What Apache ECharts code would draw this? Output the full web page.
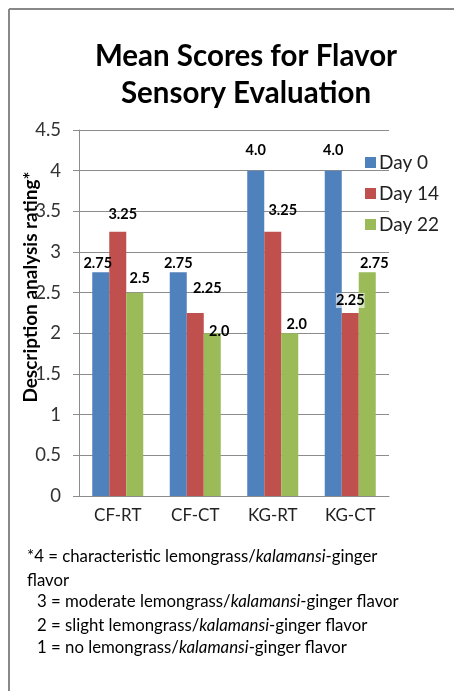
<!DOCTYPE html>
<html>
<head>
<meta charset="utf-8">
<script src="https://cdn.jsdelivr.net/npm/echarts@6/dist/echarts.min.js"></script>
<style>html,body{margin:0;padding:0;background:#fff;}#c{width:454px;height:691px;}</style>
</head>
<body>
<div id="c"></div>
<script>
var categories = ['CF-RT', 'CF-CT', 'KG-RT', 'KG-CT'];
var seriesNames = ['Day 0', 'Day 14', 'Day 22'];
var day0 = [2.75, 2.75, 4.0, 4.0];
var day14 = [3.25, 2.25, 3.25, 2.25];
var day22 = [2.5, 2.0, 2.0, 2.75];
var yTicks = { min: 0, max: 4.5, interval: 0.5 };
var titleLines = ['Mean Scores for Flavor', 'Sensory Evaluation'];
var yAxisTitle = 'Description analysis rating*';

var colors = ['#4F81BD', '#C0504D', '#9BBB59'];
var FONT = 'Lato';
// label offsets (pixel nudges to mimic original label placement)
var labelOffsets = [
  [[-3, 3], [0, 3], [0, -8], [0, -8]],
  [[5, -5], [12, -12], [10, -9], [0, 0]],
  [[5, -2], [7, 10], [7, 3], [7, 3]]
];
function fmt(v) { return Number.isInteger(v) ? v.toFixed(1) : String(v); }

var allData = [day0, day14, day22];
var series = allData.map(function (arr, si) {
  return {
    name: seriesNames[si],
    type: 'bar',
    barWidth: 17,
    barGap: '0%',
    itemStyle: { color: colors[si] },
    data: arr.map(function (v, ci) {
      var lab = { offset: labelOffsets[si][ci] };
      if (si === 1 && ci === 3) { lab.backgroundColor = 'rgba(255,255,255,0.6)'; }
      return { value: v, label: lab };
    }),
    label: {
      show: true, position: 'top', distance: 5,
      fontFamily: FONT, fontWeight: 'bold', fontSize: 14.5, color: '#000',
      formatter: function (p) { return fmt(p.value); }
    }
  };
});

function noteLine(x, y, parts) {
  var text = parts.map(function (p) { return '{' + p[0] + '|' + p[1] + '}'; }).join('');
  return {
    type: 'text', left: x, top: y,
    style: {
      text: text,
      rich: {
        n: { fontFamily: FONT, fontSize: 16.8, fill: '#000', fontStyle: 'normal' },
        i: { fontFamily: FONT, fontSize: 16.8, fill: '#000', fontStyle: 'italic' }
      }
    }
  };
}

var chart = echarts.init(document.getElementById('c'));
chart.setOption({
  animation: false,
  backgroundColor: '#fff',
  color: colors,
  title: {
    text: titleLines.join('\n'),
    left: 241, top: 33, textAlign: 'center',
    textStyle: { fontFamily: FONT, fontWeight: 'bold', fontSize: 29.5, lineHeight: 37, color: '#000' }
  },
  legend: {
    orient: 'vertical', left: 360, top: 148,
    itemWidth: 11, itemHeight: 11, itemGap: 12,
    icon: 'rect',
    textStyle: { fontFamily: FONT, fontSize: 19, color: '#222', lineHeight: 19, padding: [0, 0, 0, -2] },
    data: seriesNames
  },
  grid: { left: 79, right: 65, top: 130, bottom: 195 },
  xAxis: {
    type: 'category', data: categories,
    axisLine: { lineStyle: { color: '#8c8c8c', width: 1 } },
    axisTick: { show: false },
    axisLabel: { fontFamily: FONT, fontSize: 17, color: '#222', margin: 11 }
  },
  yAxis: {
    type: 'value', min: yTicks.min, max: yTicks.max, interval: yTicks.interval,
    axisLine: { show: true, lineStyle: { color: '#8c8c8c' } },
    axisTick: { show: true, length: 6, lineStyle: { color: '#8c8c8c' } },
    splitLine: { lineStyle: { color: '#8c8c8c' } },
    axisLabel: { fontFamily: FONT, fontSize: 18.5, color: '#333', margin: 18 }
  },
  series: series,
  graphic: [
    { type: 'line', shape: { x1: 9, y1: 9, x2: 454, y2: 9 }, style: { stroke: '#888', lineWidth: 2 } },
    { type: 'line', shape: { x1: 9, y1: 9, x2: 9, y2: 691 }, style: { stroke: '#888', lineWidth: 2 } },
    {
      type: 'text', x: 31, y: 287, rotation: Math.PI / 2,
      style: { text: yAxisTitle, fontFamily: FONT, fontWeight: 'bold', fontSize: 19, fill: '#000', align: 'center', verticalAlign: 'middle' }
    },
    noteLine(27, 548, [['n', '*4 = characteristic lemongrass/'], ['i', 'kalamansi'], ['n', '-ginger']]),
    noteLine(27, 572, [['n', 'flavor']]),
    noteLine(37, 593, [['n', '3 = moderate lemongrass/'], ['i', 'kalamansi'], ['n', '-ginger flavor']]),
    noteLine(37, 617, [['n', '2 = slight lemongrass/'], ['i', 'kalamansi'], ['n', '-ginger flavor']]),
    noteLine(37, 639, [['n', '1 = no lemongrass/'], ['i', 'kalamansi'], ['n', '-ginger flavor']])
  ]
});
</script>
</body>
</html>
